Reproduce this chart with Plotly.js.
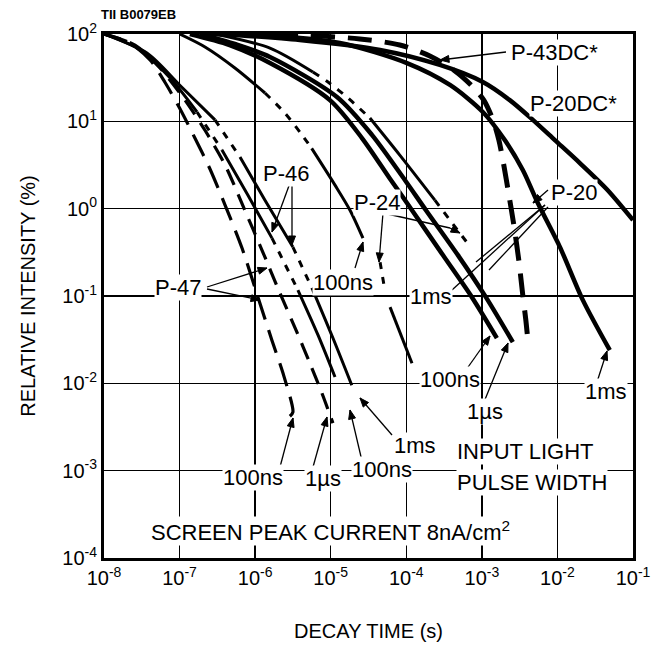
<!DOCTYPE html>
<html><head><meta charset="utf-8">
<script src="https://cdn.plot.ly/plotly-3.0.1.min.js"></script>
<style>body{margin:0;background:#fff}#chart{width:652px;height:650px}</style>
</head><body><div id="chart"></div>
<script>
// ---- data (decay time in s, relative intensity in %) ----
const tickVals = [1e-8,1e-7,1e-6,1e-5,1e-4,1e-3,1e-2,1e-1];
const tickText = ['10<sup>-8</sup>','10<sup>-7</sup>','10<sup>-6</sup>','10<sup>-5</sup>','10<sup>-4</sup>','10<sup>-3</sup>','10<sup>-2</sup>','10<sup>-1</sup>'];
const yTickVals = [1e-4,1e-3,1e-2,1e-1,1,10,100];
const yTickText = ['10<sup>-4</sup>','10<sup>-3</sup>','10<sup>-2</sup>','10<sup>-1</sup>','10<sup>0</sup>','10<sup>1</sup>','10<sup>2</sup>'];

const p47_100ns_t = [1e-8,2.2e-8,4.1e-8,6.4e-8,1.0e-7,1.6e-7,2.5e-7,4.0e-7,6.7e-7,1.09e-6,1.67e-6,2.4e-6,3.16e-6,2.88e-6];
const p47_100ns_i = [100,79,50,28,14.2,6.4,2.9,1.1,0.354,0.097,0.031,0.0121,0.00468,0.0042];

const p47_1us_t = [1e-8,2.57e-8,5.5e-8,1.18e-7,2.17e-7,4.0e-7,7.3e-7,1.23e-6,2.13e-6,3.57e-6,5.3e-6,7.66e-6,1.07e-5];
const p47_1us_i = [100,74.8,40.8,17.5,7.9,3.16,0.96,0.336,0.108,0.0385,0.017,0.0077,0.0035];

const p46_100ns_t = [1e-8,3.0e-8,7.5e-8,1.7e-7,3.64e-7,8.0e-7,1.67e-6,3.68e-6,6.8e-6,1.14e-5];
const p46_100ns_i = [100,65.6,31.3,12.8,4.7,1.43,0.46,0.117,0.0356,0.0118];

const p46_1us_t = [1e-8,3.7e-8,1.0e-7,2.94e-7,6.3e-7,1.35e-6,3.16e-6,5.8e-6,1.07e-5,1.9e-5];
const p46_1us_i = [100,60.5,26.1,10.4,3.9,1.25,0.363,0.117,0.033,0.0095];

const p24_100ns_t = [1.0e-7,2.17e-7,5.4e-7,1.35e-6,2.48e-6,4.16e-6,5.6e-6,1.14e-5,1.8e-5,2.67e-5];
const p24_100ns_i = [100,71,40.8,21.1,12.4,7.0,4.9,1.86,0.96,0.46];

const p24_1ms_t = [2.94e-7,1.57e-6,5.8e-6,9.2e-6,1.69e-5,3.3e-5,8.2e-5,2.39e-4,3.78e-4,6.5e-4];
const p24_1ms_i = [100,69,36.7,28.2,18.5,10.9,4.1,1.25,0.74,0.40];

const p24_tail_t = [4.5e-5,5.2e-5,6.1e-5,1.19e-4];
const p24_tail_i = [0.244,0.117,0.0746,0.017];

const p20_100ns_t = [1.37e-7,4.6e-7,1.57e-6,9.75e-6,2.59e-5,6.25e-5,1.19e-4,3.05e-4,7.38e-4,1.58e-3];
const p20_100ns_i = [100,74.8,46.5,17.5,6.44,2.13,0.96,0.294,0.097,0.033];

const p20_1us_t = [1.86e-7,5.4e-7,1.57e-6,1.21e-5,3.51e-5,9.57e-5,1.82e-4,4.82e-4,1.13e-3,2.57e-3];
const p20_1us_i = [100,76.8,54.6,19.0,7.0,2.13,0.96,0.294,0.097,0.0296];

const p20_1ms_t = [8.5e-7,1.32e-5,1.02e-4,3.78e-4,1.03e-3,2.01e-3,3.48e-3,5.5e-3,1.08e-2,2.17e-2,4.93e-2];
const p20_1ms_i = [100,78.9,46.5,26.1,12.8,6.1,2.77,1.16,0.363,0.0897,0.024];

const p20dc_t = [3.4e-7,3.9e-6,4.5e-5,2.78e-4,1.03e-3,2.34e-3,4.73e-3,9.25e-3,1.98e-2,4.5e-2,1e-1];
const p20dc_i = [100,85.3,65.6,44.2,28.2,17.5,10.4,6.1,3.33,1.67,0.74];

const p43dc_t = [1.86e-7,3.9e-6,2.43e-5,8.2e-5,2.05e-4,4.4e-4,7.38e-4,1.06e-3,1.4e-3,1.68e-3,1.95e-3,2.28e-3,2.65e-3,3.08e-3,3.48e-3,3.82e-3,4.06e-3];
const p43dc_i = [100,97.4,87.7,74.8,56,37.7,25.4,17.5,10.4,6.1,3.16,1.43,0.65,0.258,0.102,0.053,0.0313];

// ---- traces ----
const traces = [];
function seg(t, v, a, b, w, dash) {
  traces.push({x: t.slice(a, b + 1), y: v.slice(a, b + 1), type: 'scatter', mode: 'lines',
    line: {color: '#000', width: w, dash: dash, shape: 'spline', smoothing: 0.8},
    hoverinfo: 'skip', showlegend: false});
}
const SOLID = 'solid', SHORT = '7px,8px';
seg(p47_100ns_t, p47_100ns_i, 0, 13, 3.2, '24px,11px');
seg(p47_1us_t, p47_1us_i, 0, 12, 3.2, '17px,10px');
seg(p46_100ns_t, p46_100ns_i, 0, 3, 3, SOLID);
seg(p46_100ns_t, p46_100ns_i, 3, 4, 3, SHORT);
seg(p46_100ns_t, p46_100ns_i, 4, 6, 3, SOLID);
seg(p46_100ns_t, p46_100ns_i, 6, 7, 3, SHORT);
seg(p46_100ns_t, p46_100ns_i, 7, 9, 3, SOLID);
seg(p46_1us_t, p46_1us_i, 0, 3, 3, SOLID);
seg(p46_1us_t, p46_1us_i, 3, 4, 3, SHORT);
seg(p46_1us_t, p46_1us_i, 4, 6, 3, SOLID);
seg(p46_1us_t, p46_1us_i, 6, 7, 3, SHORT);
seg(p46_1us_t, p46_1us_i, 7, 9, 3, SOLID);
seg(p24_100ns_t, p24_100ns_i, 0, 3, 3, SOLID);
seg(p24_100ns_t, p24_100ns_i, 3, 6, 3, SHORT);
seg(p24_100ns_t, p24_100ns_i, 6, 9, 3, SOLID);
seg(p24_1ms_t, p24_1ms_i, 0, 2, 3, SOLID);
seg(p24_1ms_t, p24_1ms_i, 2, 5, 3, SHORT);
seg(p24_1ms_t, p24_1ms_i, 5, 7, 3, SOLID);
seg(p24_1ms_t, p24_1ms_i, 7, 9, 3, SHORT);
seg(p24_tail_t, p24_tail_i, 0, 1, 3, SHORT);
seg(p24_tail_t, p24_tail_i, 2, 3, 3, SOLID);
seg(p20_100ns_t, p20_100ns_i, 0, 9, 4.5, SOLID);
seg(p20_1us_t, p20_1us_i, 0, 9, 4.5, SOLID);
seg(p20_1ms_t, p20_1ms_i, 0, 10, 4.5, SOLID);
seg(p20dc_t, p20dc_i, 0, 10, 4.5, SOLID);
seg(p43dc_t, p43dc_i, 0, 16, 5, '24px,13px');

// ---- labels and pointers (positions in pixels of the 652x650 picture) ----
const L = 104, T = 34, W = 529, H = 524;
const PX = p => (p - L) / W, PY = p => (T + H - p) / H;
const FONT = {family: 'Liberation Sans, Arial, sans-serif', size: 22, color: '#000'};
const anns = [];
function label(text, cx, cy, extra) {
  anns.push(Object.assign({text: text, xref: 'paper', yref: 'paper', x: PX(cx), y: PY(cy),
    showarrow: false, font: FONT, bgcolor: '#fff', borderpad: 0, xanchor: 'center', yanchor: 'middle'}, extra || {}));
}
label('<b>TII B0079EB</b>', 138, 15, {font: {family: 'Liberation Sans, Arial, sans-serif', size: 13, color: '#000'}, bgcolor: 'rgba(0,0,0,0)'});
label('P-43DC*', 554, 53);
label('P-20DC*', 573, 104);
label('P-20', 574, 192);
label('P-24', 377, 203);
label('P-46', 286, 173);
label('P-47', 178, 287);
label('100ns', 343, 282);
label('1ms', 431, 296);
label('100ns', 450, 379);
label('1µs', 485, 411);
label('1ms', 606, 391);
label('1ms', 415, 445);
label('INPUT LIGHT', 525, 452);
label('PULSE WIDTH', 532, 482);
label('100ns', 253, 477);
label('1µs', 323, 478);
label('100ns', 382, 470);
label('SCREEN PEAK CURRENT 8nA/cm<sup>2</sup>', 330, 531);

const shapes = [];
function ln(x0, y0, x1, y1) {
  shapes.push({type: 'line', xref: 'paper', yref: 'paper', x0: PX(x0), y0: PY(y0), x1: PX(x1), y1: PY(y1),
    line: {color: '#000', width: 1.3}, layer: 'above'});
}
function arr(tipx, tipy, fx, fy) { // pointer line with a filled head
  ln(fx, fy, tipx, tipy);
  const dx = tipx - fx, dy = tipy - fy, d = Math.hypot(dx, dy), ux = dx / d, uy = dy / d;
  const bx = tipx - ux * 9, by = tipy - uy * 9, nx = -uy * 3.5, ny = ux * 3.5;
  shapes.push({type: 'path', xref: 'paper', yref: 'paper', layer: 'above',
    path: 'M' + PX(tipx) + ',' + PY(tipy) + ' L' + PX(bx + nx) + ',' + PY(by + ny) + ' L' + PX(bx - nx) + ',' + PY(by - ny) + ' Z',
    fillcolor: '#000', line: {color: '#000', width: 1}});
}
// P-43DC*
arr(440, 60, 506, 52);
// P-20
arr(533, 203, 548, 190);
ln(545, 205, 452, 290);
ln(545, 205, 476, 262);
ln(548, 207, 489, 270);
// P-24
ln(383, 213, 450, 228);
arr(460, 233, 450, 228);
arr(379, 262, 383, 213);
// P-46
arr(272, 232, 290, 183);
arr(292, 245, 292, 183);
// P-47
arr(267, 268, 207, 287);
arr(260, 300, 207, 289);
// 100ns (P-24)
arr(363, 242, 355, 268);
// bottom labels
arr(293, 418, 280, 467);
arr(327, 417, 313, 467);
arr(350, 410, 362, 461);
arr(360, 398, 392, 435);
// right labels
arr(490, 336, 466, 370);
arr(508, 343, 484, 402);
arr(607, 351, 597, 382);

const layout = {
  width: 652, height: 650,
  margin: {l: L, r: 652 - L - W, t: T, b: 650 - T - H},
  paper_bgcolor: '#fff', plot_bgcolor: '#fff',
  font: {family: 'Liberation Sans, Arial, sans-serif', color: '#000'},
  xaxis: {type: 'log', range: [-8, -1], tickvals: tickVals, ticktext: tickText,
    showgrid: true, gridcolor: '#000', gridwidth: 1.5, zeroline: false,
    showline: true, mirror: true, linecolor: '#000', linewidth: 3, ticks: '',
    tickfont: {size: 20}, fixedrange: true,
    title: {text: 'DECAY TIME (s)', font: {size: 20}, standoff: 36}},
  yaxis: {type: 'log', range: [-4, 2], tickvals: yTickVals, ticktext: yTickText,
    showgrid: true, gridcolor: '#000', gridwidth: 1.5, zeroline: false,
    showline: true, mirror: true, linecolor: '#000', linewidth: 3, ticks: '',
    tickfont: {size: 20}, fixedrange: true,
    title: {text: 'RELATIVE INTENSITY (%)', font: {size: 20}, standoff: 22}},
  annotations: anns, shapes: shapes, showlegend: false
};
Plotly.newPlot('chart', traces, layout, {staticPlot: true});
</script></body></html>
